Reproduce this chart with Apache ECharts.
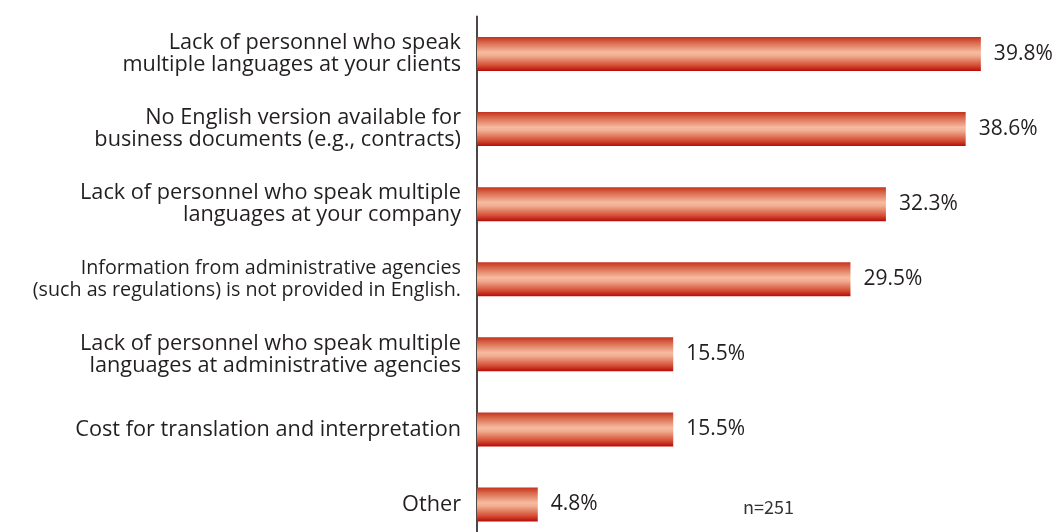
<!DOCTYPE html>
<html>
<head>
<meta charset="utf-8">
<script src="https://cdn.jsdelivr.net/npm/echarts@6/dist/echarts.min.js"></script>
<style>
  html, body { margin: 0; padding: 0; background: #ffffff; overflow: hidden; }
  /* the plot runs past the lower edge of the window, so the canvas is a bit taller */
  #chart { width: 1058px; height: 542px; }
</style>
</head>
<body>
<div id="chart"></div>
<script>
// Issues faced in business (share of respondents, %), listed top to bottom
const categories = [
  'Lack of personnel who speak\nmultiple languages at your clients',
  'No English version available for\nbusiness documents (e.g., contracts)',
  'Lack of personnel who speak multiple\nlanguages at your company',
  'Information from administrative agencies\n(such as regulations) is not provided in English.',
  'Lack of personnel who speak multiple\nlanguages at administrative agencies',
  'Cost for translation and interpretation',
  'Other'
];
const values = [39.8, 38.6, 32.3, 29.5, 15.5, 15.5, 4.8];
const sampleNote = 'n=251';

// the longest label is set a little tighter so it fits the left margin
const tightLabelIndex = 3;

const chart = echarts.init(document.getElementById('chart'), null, { renderer: 'canvas' });

// Tube-like shading across each bar: dark red edges, pale peach centre
const barFill = new echarts.graphic.LinearGradient(0, 0, 0, 1, [
  { offset: 0.00, color: '#c4321d' },
  { offset: 0.15, color: '#d86548' },
  { offset: 0.45, color: '#f6bba0' },
  { offset: 0.55, color: '#f2ad90' },
  { offset: 0.85, color: '#d2492f' },
  { offset: 1.00, color: '#b70a0a' }
]);

chart.setOption({
  backgroundColor: '#ffffff',
  animation: false,
  grid: { left: 477, top: 16.5, width: 506.4, bottom: 0, containLabel: false },
  xAxis: {
    type: 'value',
    min: 0,
    max: 40,
    show: false
  },
  yAxis: {
    type: 'category',
    inverse: true,
    data: categories,
    axisLine: { show: true, lineStyle: { color: '#4d4845', width: 2 } },
    axisTick: { show: false },
    axisLabel: {
      margin: 16,
      color: '#231f20',
      fontFamily: 'Open Sans',
      fontSize: 21.7,
      lineHeight: 22,
      align: 'right',
      formatter: (value, index) => index === tightLabelIndex ? '{t|' + value + '}' : value,
      rich: {
        t: {
          color: '#231f20',
          fontFamily: 'Open Sans',
          fontSize: 19.7,
          lineHeight: 22,
          align: 'right'
        }
      }
    }
  },
  series: [{
    type: 'bar',
    data: values,
    barWidth: 34,
    itemStyle: { color: barFill },
    label: {
      show: true,
      position: 'right',
      distance: 13,
      color: '#231f20',
      fontFamily: 'Open Sans',
      fontSize: 21,
      formatter: p => p.value.toFixed(1) + '%'
    }
  }],
  graphic: [{
    type: 'text',
    left: 743,
    top: 498,
    style: {
      text: sampleNote,
      fill: '#333333',
      font: '18px "Noto Sans CJK JP"'
    }
  }]
});
</script>
</body>
</html>
